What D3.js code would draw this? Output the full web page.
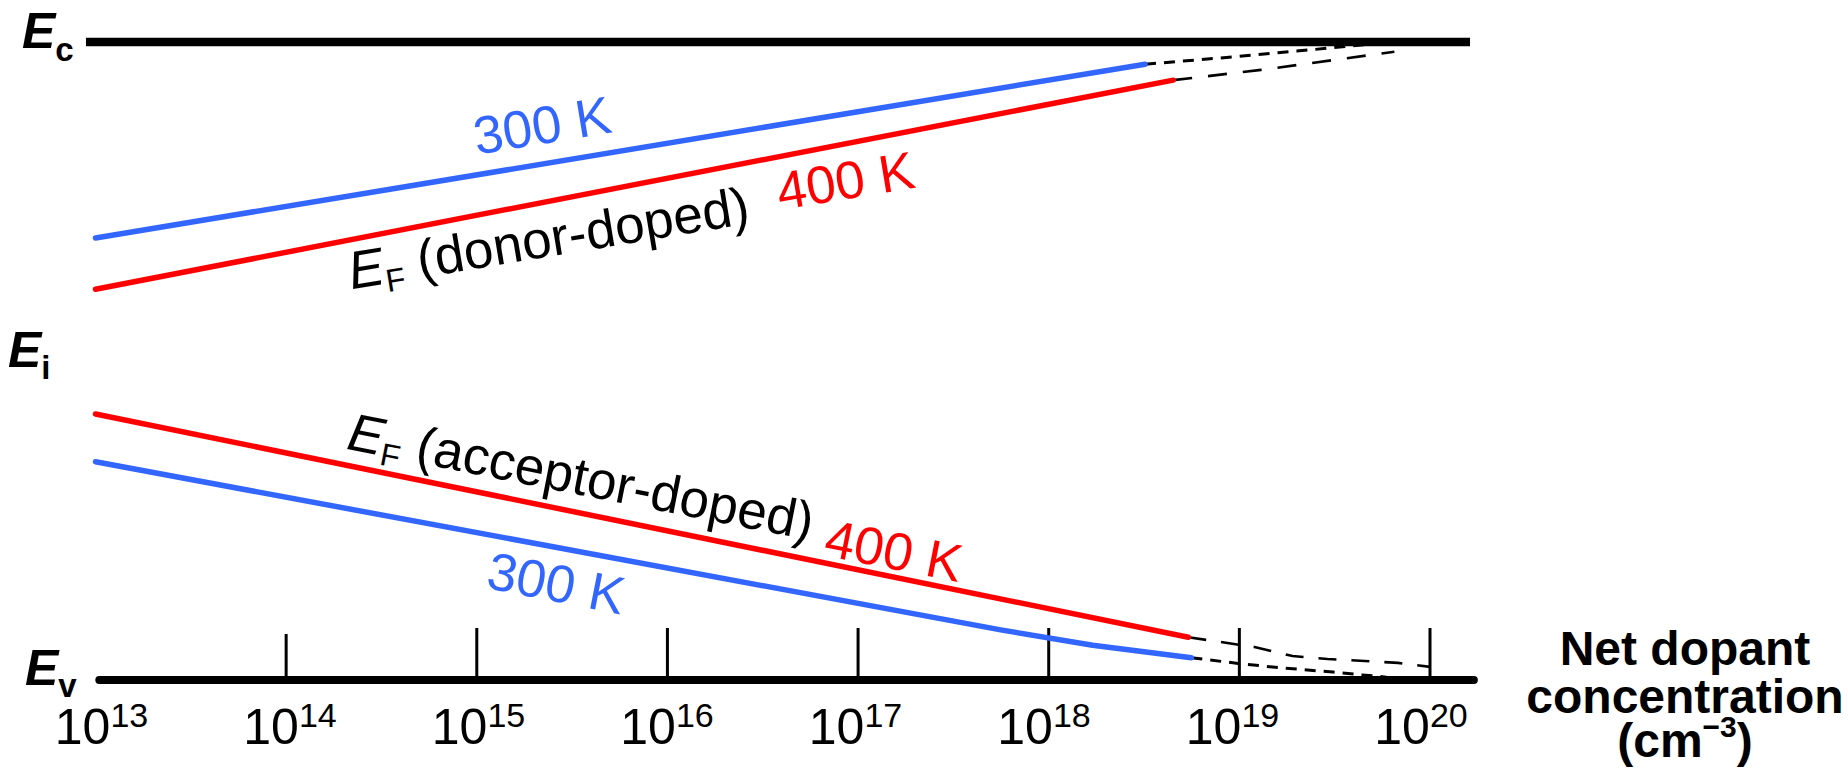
<!DOCTYPE html>
<html>
<head>
<meta charset="utf-8">
<script src="https://cdn.jsdelivr.net/npm/d3@7"></script>
<style>
  html, body { margin: 0; padding: 0; background: #fff; }
  svg { display: block; font-family: "Liberation Sans", Arial, Helvetica, sans-serif; }
</style>
</head>
<body>
<svg id="chart" width="1848" height="772"></svg>
<script>
// ---------------- data ----------------
// band edges (eV, relative to Ev)
const bands = [
  { sub: "c", E: 1.12 },
  { sub: "i", E: 0.56 },
  { sub: "v", E: 0.00 }
];
// x-axis tick exponents (10^n cm^-3)
const tickExponents = [14, 15, 16, 17, 18, 19, 20];
const labelExponents = [13, 14, 15, 16, 17, 18, 19, 20];

// Fermi level, donor-doped  [N (cm^-3), E (eV)]
const donor300 = [[1e13, 0.776], [3.2e18, 1.081]];
const donor400 = [[1e13, 0.686], [4.5e18, 1.053]];
const donor300Ext = [[3.2e18, 1.081], [8e18, 1.092], [2e19, 1.104], [5.2e19, 1.117]];
const donor400Ext = [[4.5e18, 1.053], [1.3e19, 1.071], [6.5e19, 1.103]];

// Fermi level, acceptor-doped
const acc400 = [[1e13, 0.467], [5.4e18, 0.075]];
const acc300 = [[1e13, 0.383], [5.6e17, 0.088], [1.7e18, 0.061], [5.6e18, 0.039]];
const acc400Ext = [[5.4e18, 0.075], [1.2e19, 0.058], [1.9e19, 0.042], [2.9e19, 0.037], [6.8e19, 0.030], [1e20, 0.023]];
const acc300Ext = [[5.6e18, 0.039], [1.05e19, 0.028], [1.7e19, 0.021], [3.1e19, 0.014], [4.4e19, 0.009], [5.9e19, 0.005]];

// annotation anchors [N, E]
const lblDonor300 = [1.0e15, 0.922];
const lblDonor400 = [3.9e16, 0.825];
const lblDonorEF  = [2.2e14, 0.686];
const lblAccEF    = [2.05e14, 0.406];
const lblAcc400   = [6.5e16, 0.219];
const lblAcc300   = [1.1e15, 0.162];

const blue = "#3366ff";
const red = "#ff0000";

// ---------------- scales ----------------
const svg = d3.select("#chart");
const x = d3.scaleLog().domain([1e13, 1e20]).range([95.5, 1430]);
const xLabel = d3.scaleLog().domain([1e13, 1e20]).range([101.5, 1421]);
const y = d3.scaleLinear().domain([0, 1.12]).range([680, 42]);
const line = d3.line().x(d => x(d[0])).y(d => y(d[1]));

function angleOf(seg) {
  const a = seg[0], b = seg[seg.length - 1];
  return Math.atan2(y(b[1]) - y(a[1]), x(b[0]) - x(a[0])) * 180 / Math.PI;
}

// ---------------- band lines ----------------
svg.append("line")
  .attr("x1", x(10 ** 12.95)).attr("x2", x(10 ** 20.21))
  .attr("y1", y(bands[0].E)).attr("y2", y(bands[0].E))
  .attr("stroke", "#000").attr("stroke-width", 8.5);

// dashed extrapolations
const dashed = [
  { d: donor300Ext, dash: "11,8", w: 3 },
  { d: donor400Ext, dash: "19,16", w: 2.6 },
  { d: acc300Ext, dash: "11,8", w: 3 },
  { d: acc400Ext, dash: "18,15", w: 2.6 }
];
dashed.forEach(s => {
  svg.append("path").attr("d", line(s.d))
    .attr("fill", "none").attr("stroke", "#000")
    .attr("stroke-width", s.w).attr("stroke-dasharray", s.dash);
});

// x axis (Ev line) with ticks
svg.append("line")
  .attr("x1", x(10 ** 13.02)).attr("x2", x(10 ** 20.23))
  .attr("y1", y(0)).attr("y2", y(0))
  .attr("stroke", "#000").attr("stroke-width", 8).attr("stroke-linecap", "round");

svg.selectAll("line.tick").data(tickExponents).enter().append("line")
  .attr("class", "tick")
  .attr("x1", d => x(10 ** d)).attr("x2", d => x(10 ** d))
  .attr("y1", y(0)).attr("y2", d => d === 14 ? y(0) - 46 : y(0) - 52)
  .attr("stroke", "#000").attr("stroke-width", 3);

const tl = svg.selectAll("text.tl").data(labelExponents).enter().append("text")
  .attr("class", "tl")
  .attr("x", d => xLabel(10 ** d)).attr("y", 744)
  .attr("text-anchor", "middle").attr("font-size", 50).attr("fill", "#000");
tl.append("tspan").text("10");
tl.append("tspan").attr("font-size", 34).attr("dy", -17).text(d => d);

// axis title
const title = svg.append("text").attr("text-anchor", "middle")
  .attr("font-weight", "bold").attr("font-size", 48).attr("fill", "#000");
title.append("tspan").attr("x", 1685).attr("y", 665).text("Net dopant");
title.append("tspan").attr("x", 1685).attr("y", 713).text("concentration");
const t3 = svg.append("text").attr("text-anchor", "middle")
  .attr("font-weight", "bold").attr("font-size", 48).attr("fill", "#000")
  .attr("x", 1685).attr("y", 757);
t3.append("tspan").text("(cm");
t3.append("tspan").attr("font-size", 30).attr("dy", -20).text("\u22123");
t3.append("tspan").attr("dy", 20).text(")");

// band labels
const bl = svg.selectAll("text.bl").data(bands).enter().append("text")
  .attr("class", "bl")
  .attr("x", (d, i) => [22, 8, 25][i])
  .attr("y", d => y(d.E) + (d.sub === "v" ? 5 : 6))
  .attr("font-weight", "bold").attr("fill", "#000");
bl.append("tspan").attr("font-size", 50).attr("font-style", "italic").text("E");
bl.append("tspan").attr("font-size", 33).attr("dy", d => d.sub === "c" ? 13 : 12).text(d => d.sub);

// Fermi level lines
[
  { d: donor300, c: blue },
  { d: donor400, c: red },
  { d: acc400, c: red },
  { d: acc300, c: blue }
].forEach(s => {
  svg.append("path").attr("d", line(s.d))
    .attr("fill", "none").attr("stroke", s.c)
    .attr("stroke-width", 5.5).attr("stroke-linecap", "round").attr("stroke-linejoin", "round");
});

// annotations
const angDonor = angleOf(donor300);
const angAcc = (angleOf(acc400) + angleOf(acc300)) / 2 + 0.3;

function label(pos, ang, color, parts) {
  const px = x(pos[0]), py = y(pos[1]);
  const t = svg.append("text")
    .attr("transform", `translate(${px},${py}) rotate(${ang})`)
    .attr("font-size", 53).attr("fill", color);
  parts(t);
}
label(lblDonor300, angDonor, blue, t => t.text("300 K"));
label(lblDonor400, angDonor, red, t => t.text("400 K"));
label(lblAcc400, angAcc, red, t => t.text("400 K"));
label(lblAcc300, angAcc, blue, t => t.text("300 K"));
label(lblDonorEF, angDonor, "#000", t => {
  t.append("tspan").attr("font-style", "italic").text("E");
  t.append("tspan").attr("font-size", 32).attr("dy", 9).text("F");
  t.append("tspan").attr("dy", -9).text(" (donor-doped)");
});
label(lblAccEF, angAcc, "#000", t => {
  t.append("tspan").attr("font-style", "italic").text("E");
  t.append("tspan").attr("font-size", 32).attr("dy", 9).text("F");
  t.append("tspan").attr("dy", -9).text(" (acceptor-doped)");
});
</script>
</body>
</html>
